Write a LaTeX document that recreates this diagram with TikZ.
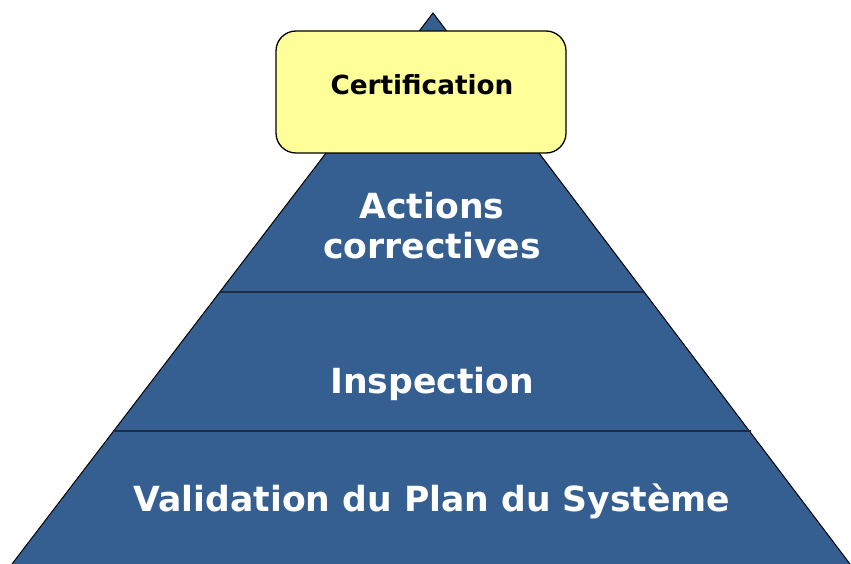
\documentclass[tikz,border=0pt]{standalone}
\usepackage{fontspec}
\setmainfont{DejaVu Sans}
\definecolor{pyrblue}{RGB}{54,95,145}
\definecolor{divline}{RGB}{28,42,66}
\definecolor{boxyellow}{RGB}{255,255,153}
\begin{document}
\begin{tikzpicture}[x=1pt,y=-1pt,
  lbl/.style={text=white,font=\fontsize{34.6}{40}\selectfont\bfseries,align=center,inner sep=0pt},
  divider/.style={draw=divline,line width=2.5pt},
  certbox/.style={draw=black,line width=1.3pt,fill=boxyellow,rounded corners=20pt,minimum width=290pt,minimum height=122pt,inner sep=0pt},
  certtext/.style={font=\fontsize{26.3}{30}\selectfont\bfseries,inner sep=0pt}]
\useasboundingbox (0,0) rectangle (851,564);
\coordinate (apex) at (433,13);
\coordinate (bl) at (12,564);
\coordinate (br) at (850,564);
\fill[pyrblue] (apex) -- (bl) -- (br) -- cycle;
\draw[black,line width=1pt] (bl) -- (apex) -- (br);
\coordinate (d1l) at (220,292);
\coordinate (d1r) at (644,292);
\coordinate (d2l) at (113,431);
\coordinate (d2r) at (751,431);
\draw[divider] (d1l) -- (d1r);
\draw[divider] (d2l) -- (d2r);
\node[certbox] (cert) at (421,92) {};
\node[certtext] (certlbl) at (422,85) {Certification};
\node[lbl] (act) at (432,226) {Actions\\correctives};
\node[lbl] (insp) at (432,384) {Inspection};
\node[lbl] (valid) at (432,501) {Validation du Plan du Système};
\end{tikzpicture}
\end{document}
